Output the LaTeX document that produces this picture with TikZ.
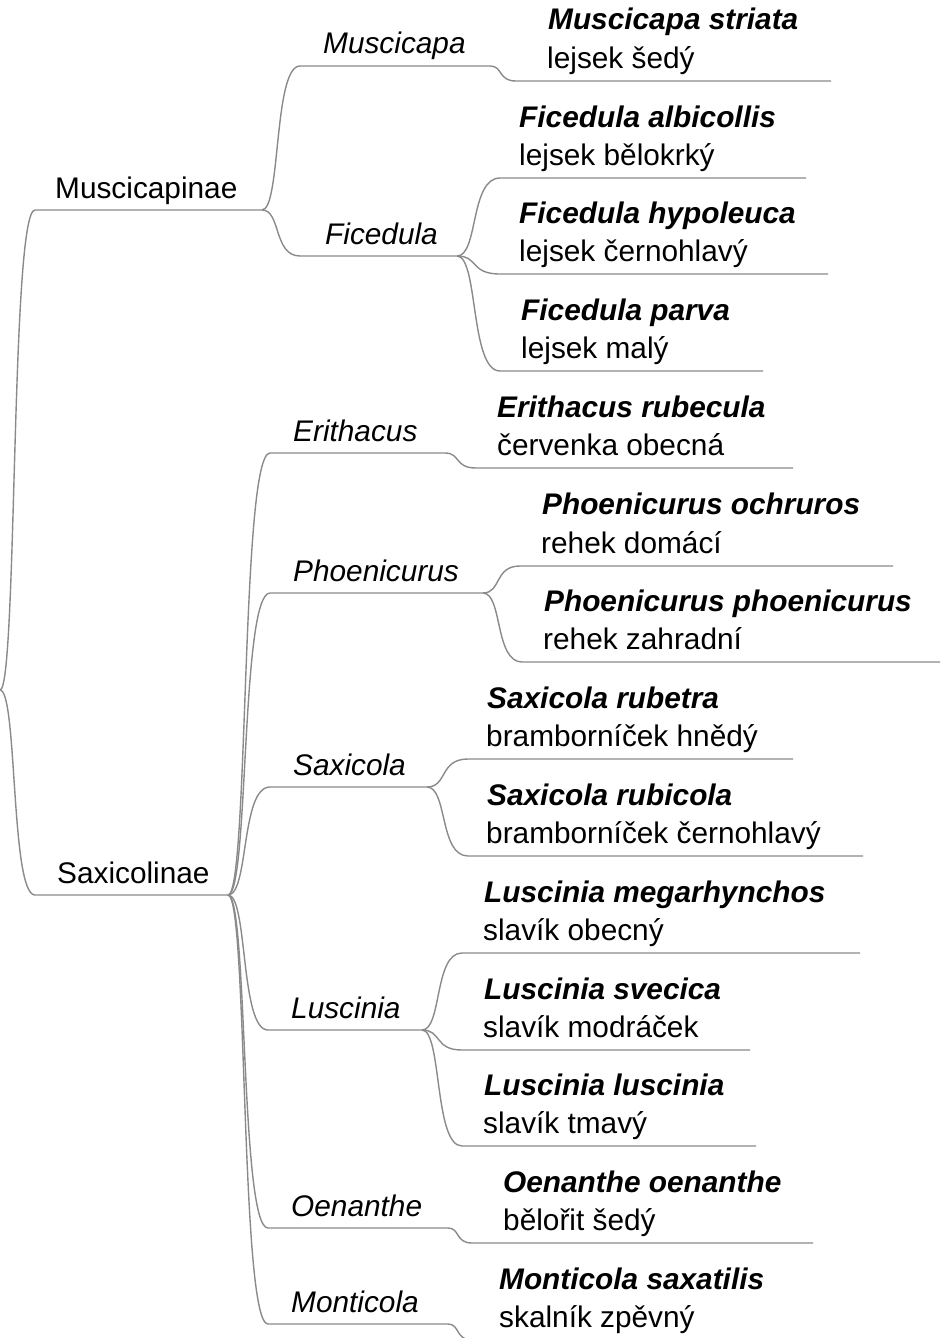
\documentclass[tikz,border=0pt]{standalone}
\usepackage{fontspec}
\setmainfont{Liberation Sans}
\usetikzlibrary{calc}
\definecolor{twiggray}{HTML}{8A8A8A}
\newcommand\labelsize{\fontsize{29.8}{36}\selectfont}
\tikzset{
  wire/.style={draw=twiggray, line width=1.4pt},
  twig/.style={wire, to path={.. controls ($(\tikztostart)!.5!(\tikztostart-|\tikztotarget)$) and ($(\tikztotarget-|\tikztostart)!.3!(\tikztotarget)$) .. (\tikztotarget)}},
  grp/.style={anchor=base west, inner sep=0pt, font=\labelsize},
  gen/.style={grp, font=\labelsize\itshape},
  spc/.style={grp, font=\labelsize\bfseries\itshape}}

\begin{document}
\begin{tikzpicture}[x=1pt, y=-1pt]
\useasboundingbox (0,0) rectangle (946,1338);
\clip (0,0) rectangle (946,1338);
% underline ends: -a where the curve arrives, -b where the line stops
\coordinate (root) at (0,690);
\coordinate (mpin-a) at (35,210);   \coordinate (mpin-b) at (262,210);
\coordinate (sxin-a) at (35,895);   \coordinate (sxin-b) at (228,895);
\coordinate (musc-a) at (300,66);   \coordinate (musc-b) at (490,66);
\coordinate (fice-a) at (300,256);  \coordinate (fice-b) at (457,256);
\coordinate (erit-a) at (270,453);  \coordinate (erit-b) at (445,453);
\coordinate (phoe-a) at (270,593);  \coordinate (phoe-b) at (483,593);
\coordinate (saxi-a) at (270,787);  \coordinate (saxi-b) at (427,787);
\coordinate (lusc-a) at (268,1030); \coordinate (lusc-b) at (422,1030);
\coordinate (oena-a) at (268,1228); \coordinate (oena-b) at (448,1228);
\coordinate (mont-a) at (268,1324); \coordinate (mont-b) at (448,1324);
\coordinate (mstr-a) at (516,81);   \coordinate (mstr-b) at (831,81);
\coordinate (falb-a) at (500,178);  \coordinate (falb-b) at (806,178);
\coordinate (fhyp-a) at (500,274);  \coordinate (fhyp-b) at (828,274);
\coordinate (fpar-a) at (500,371);  \coordinate (fpar-b) at (763,371);
\coordinate (erub-a) at (476,468);  \coordinate (erub-b) at (793,468);
\coordinate (poch-a) at (520,566);  \coordinate (poch-b) at (893,566);
\coordinate (ppho-a) at (522,662);  \coordinate (ppho-b) at (940,662);
\coordinate (srub-a) at (468,759);  \coordinate (srub-b) at (793,759);
\coordinate (srbc-a) at (468,856);  \coordinate (srbc-b) at (863,856);
\coordinate (lmeg-a) at (462,953);  \coordinate (lmeg-b) at (860,953);
\coordinate (lsve-a) at (462,1050); \coordinate (lsve-b) at (750,1050);
\coordinate (llus-a) at (462,1146); \coordinate (llus-b) at (756,1146);
\coordinate (ooen-a) at (472,1243); \coordinate (ooen-b) at (813,1243);
\coordinate (msax-a) at (472,1340); \coordinate (msax-b) at (800,1340);

% subfamilies and genera
\node[grp] (mpin) at (55,198) {Muscicapinae};
\node[grp] (sxin) at (57,883) {Saxicolinae};
\node[gen] (musc) at (323,54) {Muscicapa};
\node[gen] (fice) at (325,244) {Ficedula};
\node[gen] (erit) at (293,441) {Erithacus};
\node[gen] (phoe) at (293,581) {Phoenicurus};
\node[gen] (saxi) at (293,775) {Saxicola};
\node[gen] (lusc) at (291,1018) {Luscinia};
\node[gen] (oena) at (291,1216) {Oenanthe};
\node[gen] (mont) at (291,1312) {Monticola};

% species
\node[spc] (mstr) at (548,30) {Muscicapa striata};
\node[grp] (mstr-c) at (547,68) {lejsek šedý};
\node[spc] (falb) at (519,127) {Ficedula albicollis};
\node[grp] (falb-c) at (519,165) {lejsek bělokrký};
\node[spc] (fhyp) at (519,223) {Ficedula hypoleuca};
\node[grp] (fhyp-c) at (519,261) {lejsek černohlavý};
\node[spc] (fpar) at (521,320) {Ficedula parva};
\node[grp] (fpar-c) at (521,358) {lejsek malý};
\node[spc] (erub) at (497,417) {Erithacus rubecula};
\node[grp] (erub-c) at (497,455) {červenka obecná};
\node[spc] (poch) at (542,514) {Phoenicurus ochruros};
\node[grp] (poch-c) at (541,553) {rehek domácí};
\node[spc] (ppho) at (544,611) {Phoenicurus phoenicurus};
\node[grp] (ppho-c) at (543,649) {rehek zahradní};
\node[spc] (srub) at (487,708) {Saxicola rubetra};
\node[grp] (srub-c) at (486,746) {bramborníček hnědý};
\node[spc] (srbc) at (487,805) {Saxicola rubicola};
\node[grp] (srbc-c) at (486,843) {bramborníček černohlavý};
\node[spc] (lmeg) at (484,902) {Luscinia megarhynchos};
\node[grp] (lmeg-c) at (483,940) {slavík obecný};
\node[spc] (lsve) at (484,999) {Luscinia svecica};
\node[grp] (lsve-c) at (483,1037) {slavík modráček};
\node[spc] (llus) at (484,1095) {Luscinia luscinia};
\node[grp] (llus-c) at (483,1133) {slavík tmavý};
\node[spc] (ooen) at (503,1192) {Oenanthe oenanthe};
\node[grp] (ooen-c) at (503,1230) {bělořit šedý};
\node[spc] (msax) at (499,1289) {Monticola saxatilis};
\node[grp] (msax-c) at (499,1327) {skalník zpěvný};

% branches
\draw[twig] (root) to (mpin-a) -- (mpin-b);
\draw[twig] (root) to (sxin-a) -- (sxin-b);
\draw[twig] (mpin-b) to (musc-a) -- (musc-b) to (mstr-a) -- (mstr-b);
\draw[twig] (mpin-b) to (fice-a) -- (fice-b);
\draw[twig] (fice-b) to (falb-a) -- (falb-b);
\draw[twig] (fice-b) to (fhyp-a) -- (fhyp-b);
\draw[twig] (fice-b) to (fpar-a) -- (fpar-b);
\draw[twig] (sxin-b) to (erit-a) -- (erit-b) to (erub-a) -- (erub-b);
\draw[twig] (sxin-b) to (phoe-a) -- (phoe-b);
\draw[twig] (phoe-b) to (poch-a) -- (poch-b);
\draw[twig] (phoe-b) to (ppho-a) -- (ppho-b);
\draw[twig] (sxin-b) to (saxi-a) -- (saxi-b);
\draw[twig] (saxi-b) to (srub-a) -- (srub-b);
\draw[twig] (saxi-b) to (srbc-a) -- (srbc-b);
\draw[twig] (sxin-b) to (lusc-a) -- (lusc-b);
\draw[twig] (lusc-b) to (lmeg-a) -- (lmeg-b);
\draw[twig] (lusc-b) to (lsve-a) -- (lsve-b);
\draw[twig] (lusc-b) to (llus-a) -- (llus-b);
\draw[twig] (sxin-b) to (oena-a) -- (oena-b) to (ooen-a) -- (ooen-b);
\draw[twig] (sxin-b) to (mont-a) -- (mont-b) to (msax-a) -- (msax-b);
\end{tikzpicture}
\end{document}
